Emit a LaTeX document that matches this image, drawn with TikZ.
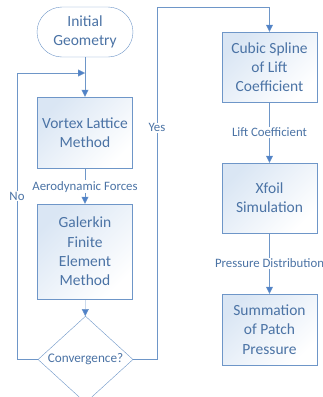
\documentclass[tikz,border=0pt]{standalone}
\usepackage{fontspec}
\setmainfont{Carlito}
\usepackage{tikz}
\usetikzlibrary{arrows.meta,shapes.geometric}
\definecolor{flowline}{RGB}{110,150,200}
\definecolor{flowtext}{RGB}{75,115,165}
\definecolor{flowhead}{RGB}{80,130,200}
\definecolor{flowfill}{RGB}{218,230,244}
\tikzset{
  flownode/.style = {align=center, inner sep=0pt, text centered,
    draw=flowline, text=flowtext, font=\fontsize{15.5}{19.3}\selectfont},
  procbox/.style = {flownode, rectangle, minimum width=95pt,
    top color=flowfill, bottom color=white, shading angle=45},% process
  termbox/.style = {flownode, rectangle, rounded corners=25pt,
    minimum width=96pt, minimum height=50pt, fill=white},% start
  decbox/.style = {flownode, diamond, minimum width=95pt,
    minimum height=71pt, fill=white, font=\fontsize{13.2}{15}\selectfont},% decision
  flowlabel/.style = {fill=white, inner sep=1pt, text=flowtext,
    font=\fontsize{12.8}{14}\selectfont},
  flowarrow/.style = {draw=flowline, -{Triangle[length=7pt,width=7pt,fill=flowhead]}}
}
\begin{document}
\begin{tikzpicture}[x=1pt,y=-1pt]
\useasboundingbox (0,0) rectangle (323,397);
% left column
\node [termbox] (init) at (85,32) {Initial\\Geometry};
\node [procbox, minimum height=71pt] (vlm) at (85,132.5) {Vortex Lattice\\Method};
\node [procbox, minimum height=95pt] (gfem) at (85,251.5) {Galerkin\\Finite\\Element\\Method};
\node [decbox] (conv) at (85.5,359.5) {Convergence?};
% right column
\node [procbox, minimum height=70pt] (spline) at (269.5,67) {Cubic Spline\\of Lift\\Coefficient};
\node [procbox, minimum height=70pt] (xfoil) at (269.5,198) {Xfoil\\Simulation};
\node [procbox, minimum height=71pt] (patch) at (269.5,329.5) {Summation\\of Patch\\Pressure};
% loop corners
\coordinate (join) at (85,73);
\coordinate (noleft) at (17,359.5);
\coordinate (yestop) at (157,7);
% connectors
\draw [flowarrow] (init) -- (vlm);
\draw [flowarrow] (vlm) -- node [flowlabel, pos=0.52] (aero) {Aerodynamic Forces} (gfem);
\draw [flowarrow] (gfem) -- (conv);
\draw [flowarrow] (conv.west) -- (noleft) -- node [flowlabel, pos=0.57] (no) {No} (noleft |- join) -- (join);
\draw [flowarrow] (conv.east) -- (conv.east -| yestop) -- node [flowlabel, pos=0.657] (yes) {Yes} (yestop) -- (yestop -| spline) -- (spline);
\draw [flowarrow] (spline) -- node [flowlabel] (lift) {Lift Coefficient} (xfoil);
\draw [flowarrow] (xfoil) -- node [flowlabel] (press) {Pressure Distribution} (patch);
\end{tikzpicture}
\end{document}
